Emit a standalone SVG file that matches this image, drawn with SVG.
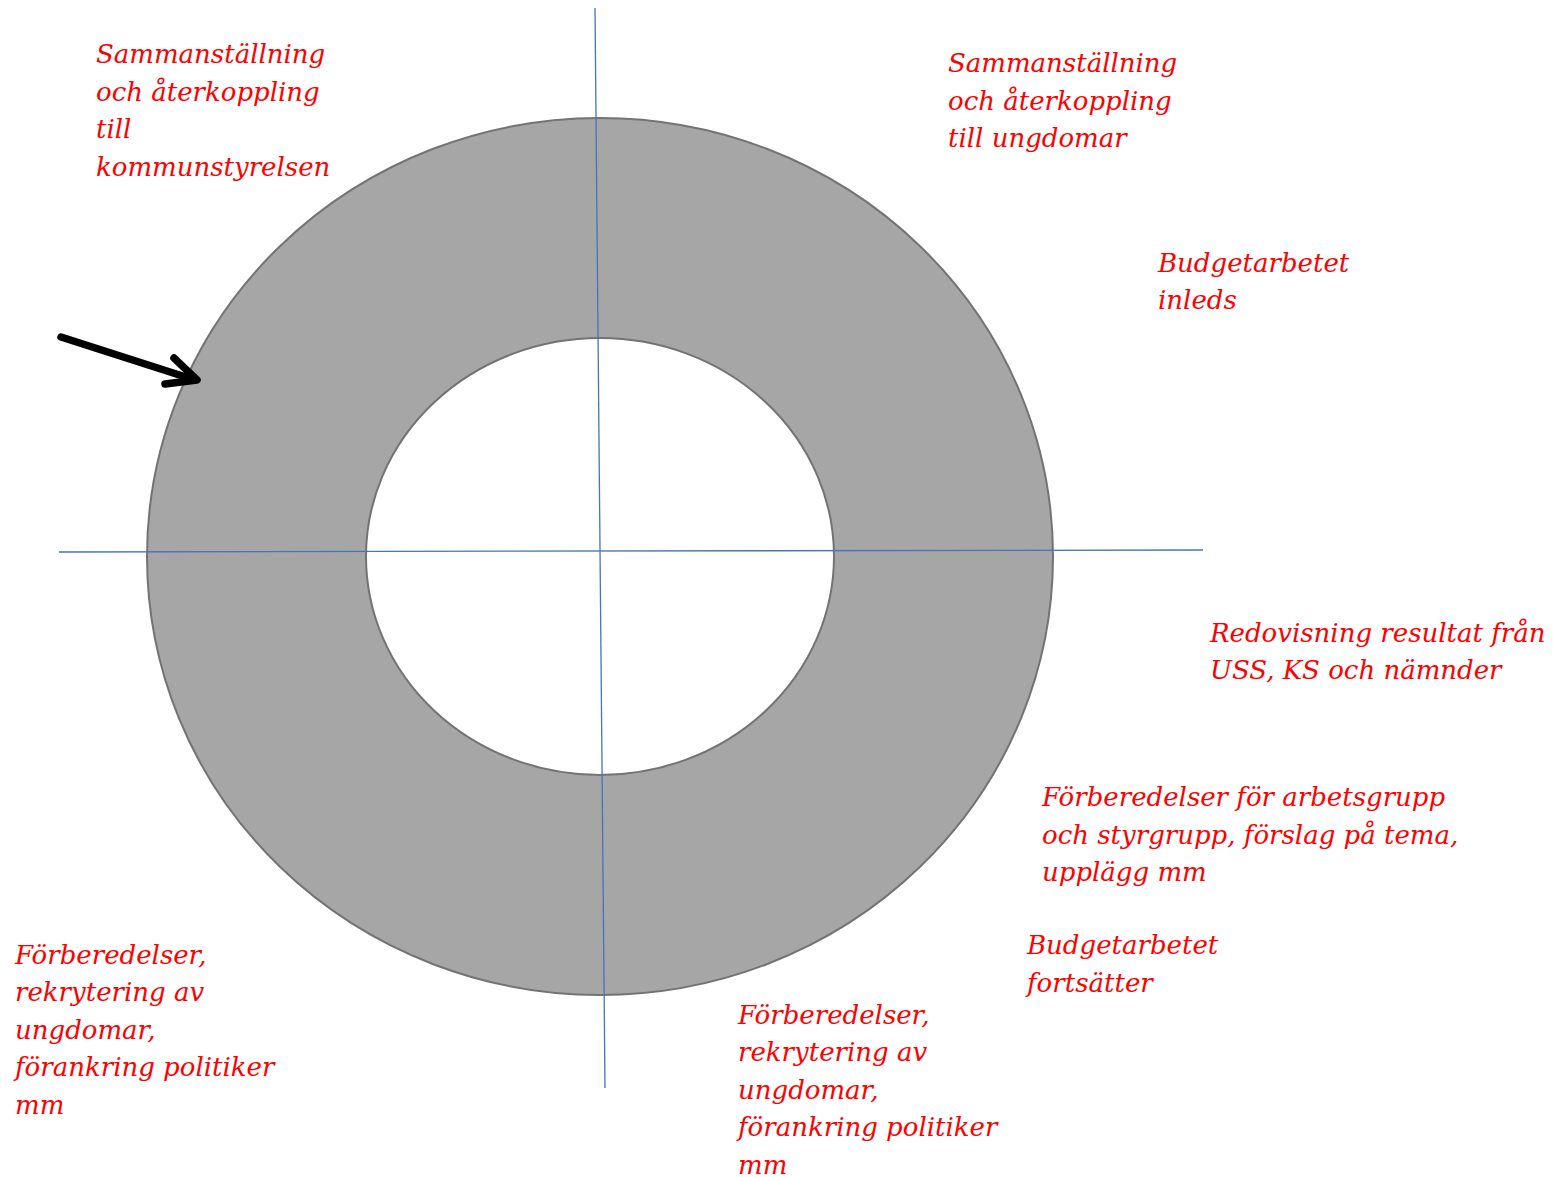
<svg xmlns="http://www.w3.org/2000/svg" width="1553" height="1177" viewBox="0 0 1553 1177">
<style>
.lbl{font-family:"DejaVu Serif","Liberation Serif",serif;font-style:italic;font-size:26px;fill:#ff0000}
.axis{stroke:#4472c4;stroke-width:1.3;fill:none}
</style>
<rect width="1553" height="1177" fill="#ffffff"/>
<g id="ring">
<path d="M147,556.5 a453,438.5 0 1,0 906,0 a453,438.5 0 1,0 -906,0 Z M366,556.5 a234,218.5 0 1,0 468,0 a234,218.5 0 1,0 -468,0 Z" fill="#a6a6a6" fill-rule="evenodd" stroke="#737373" stroke-width="2"/>
</g>
<g id="connectors">
<line class="axis" x1="595" y1="8" x2="605" y2="1088"/>
<line class="axis" x1="59" y1="552" x2="1203" y2="550"/>
<g stroke="#000" stroke-width="7.5" stroke-linecap="round" stroke-linejoin="round" fill="none">
<line x1="61" y1="337" x2="195" y2="380"/>
<polyline points="174,358 197,380 165,384"/>
</g>
</g>
<g id="label-tl"><text class="lbl"><tspan x="96" y="63">Sammanställning</tspan><tspan x="96" y="101">och återkoppling</tspan><tspan x="96" y="138">till</tspan><tspan x="96" y="176">kommunstyrelsen</tspan></text></g>
<g id="label-tr"><text class="lbl"><tspan x="948" y="72">Sammanställning</tspan><tspan x="948" y="110">och återkoppling</tspan><tspan x="948" y="147">till ungdomar</tspan></text></g>
<g id="label-budget1"><text class="lbl"><tspan x="1158" y="272">Budgetarbetet</tspan><tspan x="1158" y="309">inleds</tspan></text></g>
<g id="label-redovisning"><text class="lbl"><tspan x="1210" y="642">Redovisning resultat från</tspan><tspan x="1210" y="679">USS, KS och nämnder</tspan></text></g>
<g id="label-forberedelser-ag"><text class="lbl"><tspan x="1042" y="806">Förberedelser för arbetsgrupp</tspan><tspan x="1042" y="844">och styrgrupp, förslag på tema,</tspan><tspan x="1042" y="881">upplägg mm</tspan></text></g>
<g id="label-budget2"><text class="lbl"><tspan x="1027" y="954">Budgetarbetet</tspan><tspan x="1027" y="992">fortsätter</tspan></text></g>
<g id="label-bl"><text class="lbl"><tspan x="15" y="964">Förberedelser,</tspan><tspan x="15" y="1001">rekrytering av</tspan><tspan x="15" y="1039">ungdomar,</tspan><tspan x="15" y="1076">förankring politiker</tspan><tspan x="15" y="1114">mm</tspan></text></g>
<g id="label-bm"><text class="lbl"><tspan x="738" y="1024">Förberedelser,</tspan><tspan x="738" y="1061">rekrytering av</tspan><tspan x="738" y="1099">ungdomar,</tspan><tspan x="738" y="1136">förankring politiker</tspan><tspan x="738" y="1174">mm</tspan></text></g>
</svg>
